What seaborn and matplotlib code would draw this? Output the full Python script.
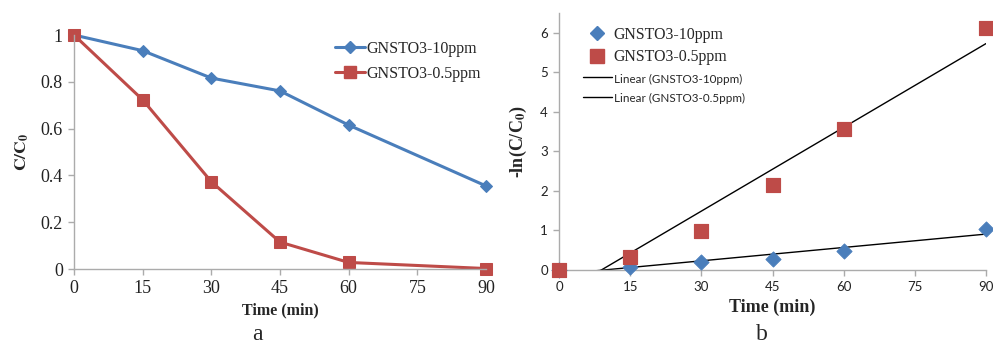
import numpy as np
import pandas as pd
import matplotlib
matplotlib.use("Agg")
import matplotlib.pyplot as plt
import seaborn as sns
from matplotlib.lines import Line2D

# ---- data ----
time_min = [0, 15, 30, 45, 60, 90]
c_10ppm = [1.0, 0.933, 0.816, 0.761, 0.615, 0.355]
c_05ppm = [1.0, 0.723, 0.373, 0.115, 0.028, 0.002]
lnc_10ppm = [0.0, 0.067, 0.204, 0.274, 0.486, 1.036]
lnc_05ppm = [0.0, 0.32, 0.99, 2.16, 3.57, 6.13]
x_ticks = [0, 15, 30, 45, 60, 75, 90]
y_ticks_a = [0, 0.2, 0.4, 0.6, 0.8, 1.0]
y_ticklabels_a = ["0", "0.2", "0.4", "0.6", "0.8", "1"]
y_ticks_b = [0, 1, 2, 3, 4, 5, 6]
labels = ["GNSTO3-10ppm", "GNSTO3-0.5ppm"]
fit_labels = ["Linear (GNSTO3-10ppm)", "Linear (GNSTO3-0.5ppm)"]

sns.set_theme(style="ticks")
plt.rcParams["font.family"] = ["Liberation Serif", "DejaVu Serif"]
plt.rcParams["mathtext.fontset"] = "stix"

BLUE = "#4A7EBB"
RED = "#BE4B48"
SPINE = "#ABABAB"
SANS = "Lato"

fig = plt.figure(figsize=(9.93, 3.46), dpi=100)
axA = fig.add_axes([74/993, 1-269/346, (486-74)/993, (269-35)/346])
axB = fig.add_axes([559/993, 1-270/346, (986-559)/993, (270-13)/346])

# ---- panel a ----
sns.lineplot(x=time_min, y=c_10ppm, ax=axA, color=BLUE, lw=2.2, marker="D",
             markersize=6.5, markeredgecolor=BLUE, clip_on=False)
sns.lineplot(x=time_min, y=c_05ppm, ax=axA, color=RED, lw=2.2, marker="s",
             markersize=8, markeredgecolor=RED, clip_on=False)
axA.set_xlim(0, 90)
axA.set_ylim(0, 1.0)
axA.set_xticks(x_ticks)
axA.set_yticks(y_ticks_a)
axA.set_yticklabels(y_ticklabels_a)
axA.set_xlabel("Time (min)", fontsize=11.5, fontweight="bold", labelpad=4)
axA.set_ylabel(r"$\mathbf{C/C_0}$", fontsize=12.5, labelpad=7)
axA.tick_params(labelsize=13, length=4, color=SPINE, width=1)
axA.tick_params(axis="y", pad=4)
axA.tick_params(axis="x", pad=4)
handlesA = [Line2D([], [], color=BLUE, lw=2.2, marker="D", markersize=6.5),
            Line2D([], [], color=RED, lw=2.2, marker="s", markersize=8)]
fig.legend(handlesA, labels, loc="upper left", bbox_to_anchor=(335/993, 1-41/346),
           bbox_transform=fig.transFigure, frameon=False, fontsize=11.5,
           borderpad=0, borderaxespad=0, handlelength=1.9, handletextpad=0.05,
           labelspacing=0.55)

# ---- panel b ----
sns.regplot(x=time_min, y=lnc_10ppm, ax=axB, scatter=False, ci=None,
            line_kws=dict(color="black", lw=1))
sns.regplot(x=time_min, y=lnc_05ppm, ax=axB, scatter=False, ci=None,
            line_kws=dict(color="black", lw=1))
sns.scatterplot(x=time_min, y=lnc_10ppm, ax=axB, color=BLUE, marker="D", s=60,
                edgecolor=BLUE, clip_on=False, zorder=3)
sns.scatterplot(x=time_min, y=lnc_05ppm, ax=axB, color=RED, marker="s", s=110,
                edgecolor=RED, clip_on=False, zorder=4)
axB.set_xlim(0, 90)
axB.set_ylim(0, 6.5)
axB.set_xticks(x_ticks)
axB.set_yticks(y_ticks_b)
axB.set_xlabel("Time (min)", fontsize=13, fontweight="bold", labelpad=4)
axB.set_ylabel(r"-ln(C/C$_\mathbf{0}$)", fontsize=13, fontweight="bold", labelpad=8)
axB.tick_params(labelsize=9.5, length=4, color=SPINE, width=1, pad=4)
for t in axB.get_xticklabels() + axB.get_yticklabels():
    t.set_fontfamily(SANS)
handlesB = [Line2D([], [], ls="none", color=BLUE, marker="D", markersize=7.5),
            Line2D([], [], ls="none", color=RED, marker="s", markersize=10),
            Line2D([], [], color="black", lw=1),
            Line2D([], [], color="black", lw=1)]
legB = fig.legend(handlesB, labels + fit_labels, loc="upper left",
                  bbox_to_anchor=(583/993, 1-27/346), bbox_transform=fig.transFigure,
                  frameon=False, fontsize=11.4, borderpad=0, borderaxespad=0,
                  handlelength=1.8, handletextpad=0.15, labelspacing=0.4)
for t in legB.get_texts()[2:]:
    t.set_fontfamily(SANS)
    t.set_fontsize(8.4)

for ax in (axA, axB):
    sns.despine(ax=ax)
    for s in ("left", "bottom"):
        ax.spines[s].set_color(SPINE)
        ax.spines[s].set_linewidth(1)
    ax.tick_params(labelcolor="#222222")

fig.text(257/993, 1-340/346, "a", fontsize=17, ha="center", va="baseline")
fig.text(762/993, 1-340/346, "b", fontsize=17, ha="center", va="baseline")

fig.savefig("out.png", dpi=100)
